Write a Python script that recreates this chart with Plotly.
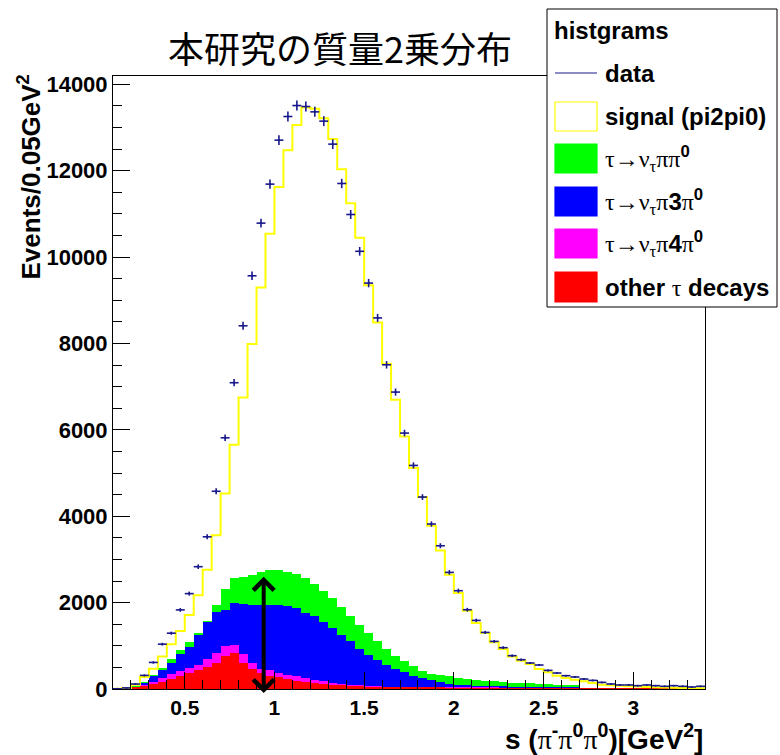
import numpy as np
import plotly.graph_objects as go

# ---------------- data ----------------
# bin centres of s = m^2(pi- pi0 pi0) [GeV^2], 0.05 GeV^2 bins from 0.1 to 3.4
s_centers = np.round(0.125 + 0.05 * np.arange(66), 3)
bin_width = 0.05

# THStack boundaries (each stacked histogram drawn as its cumulative height)
other_top = [2, 8, 25, 60, 115, 165, 225, 290, 360, 430, 510, 610, 770, 835, 600,
             455, 360, 310, 275, 235, 196, 172, 146, 123, 104, 88, 75, 64, 55, 48, 42, 37, 33, 29, 26,
             25, 24, 23, 23, 22, 22, 21, 21, 20, 20, 20, 19, 19, 19, 18, 18, 18, 17, 17, 17, 16, 16,
             16, 15, 15, 15, 14, 14, 14, 13, 13]
pi4pi0_top = [3, 12, 40, 95, 170, 260, 340, 410, 485, 561, 692, 840, 985, 1023, 800,
              610, 465, 435, 380, 335, 292, 254, 215, 177, 146, 120, 100, 85, 72, 62, 54, 47, 41, 36, 32,
              30, 28, 27, 26, 25, 25, 24, 24, 23, 23, 22, 22, 21, 21, 20, 20, 20, 19, 19, 18, 18, 17,
              17, 16, 16, 15, 15, 15, 14, 14, 13]
pi3pi0_top = [4, 16, 55, 150, 290, 446, 610, 808, 965, 1255, 1555, 1780, 1840, 1990, 1975,
              1950, 1945, 1950, 1950, 1910, 1870, 1765, 1680, 1545, 1405, 1255, 1100, 935, 795, 665,
              550, 465, 390, 312, 265,
              205, 160, 125, 100, 85, 75, 68, 62, 58, 54, 50, 47, 45, 43, 41, 39, 37,
              19, 19, 18, 18, 17, 17, 16, 16, 15, 15, 15, 14, 14, 13]
pipi0_top = [4, 18, 62, 170, 331, 485, 705, 900, 1077, 1292, 1580, 1940, 2320, 2570, 2600,
             2650, 2700, 2750, 2755, 2720, 2660, 2565, 2435, 2270, 2100, 1900, 1700, 1490, 1290, 1100,
             920, 775, 640, 530, 428,
             350, 330, 295, 265, 240, 215, 195, 178, 163, 150, 138, 128, 118, 110, 102, 94, 86,
             19, 19, 18, 18, 17, 17, 16, 16, 15, 15, 15, 14, 14, 13]
signal_top = [5, 23, 100, 277, 469, 754, 1038, 1340, 1715, 2170, 2760, 3561, 4523, 5654, 6750,
              7984, 9295, 10537, 11618, 12474, 13053, 13460, 13430, 13214, 12729, 12034, 11247, 10445,
              9345, 8484,
              7528, 6695, 5846, 5114, 4443, 3779, 3204, 2645, 2221, 1812, 1527, 1296, 1080, 925, 755,
              655, 578, 463, 385, 308, 254, 215, 177, 139, 100, 85, 75, 65, 55, 48, 42, 36, 30, 25,
              20, 15]
data_counts = [5, 25, 115, 315, 615, 1038, 1292, 1831, 2208, 2831, 3523, 4577, 5815, 7090, 8408,
               9565, 10784, 11687, 12705, 13252, 13506, 13483, 13360, 13145, 12613, 11702, 10984,
               10132, 9396, 8590,
               7505, 6873, 5924, 5175, 4443, 3818, 3316, 2699, 2275, 1835, 1588, 1310, 1102, 956, 771,
               678, 602, 555, 431, 370, 308, 278, 231, 199, 153, 116, 93, 93, 77, 93, 77, 62, 77, 62,
               46, 62]

x_tick_vals = [0.5, 1, 1.5, 2, 2.5, 3]
y_tick_vals = [0, 2000, 4000, 6000, 8000, 10000, 12000, 14000]

arrow_s, arrow_top, arrow_bottom = 0.94, 2600, -130

# ---------------- styling ----------------
NAVY = "rgb(25,25,140)"
FONT = "Liberation Sans"
L, R, T, B = 113, 705, 76, 689  # plot-area pixel box
W, H = 780, 755


def px2x(px):
    return (px - L) / (R - L)


def py2y(py):
    return (B - py) / (B - T)


def greek(t):
    return f'<span style="font-weight:normal;font-family:Liberation Serif">{t}</span>'


fig = go.Figure()

# stacked histograms (THStack style: cumulative heights drawn from the top down)
for tops, col in [(signal_top, "white"), (pipi0_top, "#00ff00"), (pi3pi0_top, "#0000ff"),
                  (pi4pi0_top, "#ff00ff"), (other_top, "#ff0000")]:
    fig.add_trace(go.Bar(x=s_centers, y=tops, width=bin_width,
                         marker=dict(color=col, line=dict(width=0)),
                         showlegend=False, hoverinfo="skip"))

# yellow outline of the signal (top of stack)
edges = list(s_centers - bin_width / 2) + [s_centers[-1] + bin_width / 2]
fig.add_trace(go.Scatter(x=edges, y=list(signal_top) + [signal_top[-1]], mode="lines",
                         line=dict(color="#ffff00", width=2, shape="hv"),
                         showlegend=False, hoverinfo="skip"))

# data with errors
fig.add_trace(go.Scatter(x=s_centers, y=data_counts, mode="markers",
                         marker=dict(size=2, color=NAVY),
                         error_x=dict(type="constant", value=bin_width / 2, width=0,
                                      thickness=1.6, color=NAVY),
                         error_y=dict(type="sqrt", width=0, thickness=1.6, color=NAVY),
                         showlegend=False))

axis_common = dict(showline=True, linecolor="black", linewidth=1, mirror=True,
                   showgrid=False, zeroline=False, ticks="inside", tickcolor="black",
                   tickwidth=1, ticklen=17)

fig.update_xaxes(range=[0.1, 3.4], tickvals=x_tick_vals,
                 ticktext=[f"{v:g}" for v in x_tick_vals],
                 tickfont=dict(family=FONT, size=21, color="black", weight="bold"),
                 minor=dict(ticks="inside", dtick=0.1, tick0=0, ticklen=9,
                            tickcolor="black", showgrid=False),
                 **axis_common)
fig.update_yaxes(range=[0, 14190], tickvals=y_tick_vals,
                 ticktext=[str(v) for v in y_tick_vals],
                 tickfont=dict(family=FONT, size=22, color="black", weight="bold"),
                 minor=dict(ticks="inside", dtick=500, tick0=0, ticklen=9,
                            tickcolor="black", showgrid=False),
                 **axis_common)

ann = []
ann.append(dict(text="本研究の質量2乗分布", xref="paper", yref="paper",
                x=px2x(340), y=py2y(47), xanchor="center", yanchor="middle", showarrow=False,
                font=dict(family="Noto Sans CJK JP", size=36, color="black")))
ann.append(dict(text="s (" + greek("π") + "<sup>-</sup>" + greek("π") + "<sup>0</sup>" + greek("π")
                + "<sup>0</sup>)[GeV<sup>2</sup>]",
                xref="paper", yref="paper", x=px2x(705), y=py2y(737),
                xanchor="right", yanchor="middle", showarrow=False,
                font=dict(family=FONT, size=28, color="black", weight="bold")))
ann.append(dict(text="Events/0.05GeV<sup>2</sup>", textangle=-90,
                xref="paper", yref="paper", x=px2x(30), y=py2y(73),
                xanchor="center", yanchor="top", showarrow=False,
                font=dict(family=FONT, size=26, color="black", weight="bold")))

# double arrow
ann.append(dict(x=arrow_s, y=arrow_top, ax=arrow_s, ay=arrow_bottom, xref="x", yref="y",
                axref="x", ayref="y", text="", showarrow=True, arrowhead=4, startarrowhead=4,
                arrowside="end+start", arrowwidth=4, arrowsize=1, startarrowsize=1,
                arrowcolor="black", standoff=0, startstandoff=0))

# legend (ROOT TLegend style)
shapes = [dict(type="rect", xref="paper", yref="paper", x0=px2x(547), x1=px2x(777),
               y0=py2y(307), y1=py2y(9), fillcolor="white", line=dict(color="black", width=1),
               layer="above")]
leg_font = dict(family=FONT, size=24, color="black", weight="bold")
ann.append(dict(text="histgrams", xref="paper", yref="paper", x=px2x(552), y=py2y(30),
                xanchor="left", yanchor="middle", showarrow=False, font=leg_font))
shapes.append(dict(type="line", xref="paper", yref="paper", x0=px2x(555), x1=px2x(597),
                   y0=py2y(73), y1=py2y(73), line=dict(color=NAVY, width=1.2), layer="above"))
ann.append(dict(text="data", xref="paper", yref="paper", x=px2x(603), y=py2y(73),
                xanchor="left", yanchor="middle", showarrow=False, font=leg_font))

tau_nu = greek("τ→ν") + "<sub>" + greek("τ") + "</sub>"
entries = [
    (102, 131, "white", "#ffff00", "signal (pi2pi0)"),
    (144, 173, "#00ff00", "#00ff00", tau_nu + greek("ππ") + "<sup>0</sup>"),
    (187, 216, "#0000ff", "#0000ff", tau_nu + greek("π") + "3" + greek("π") + "<sup>0</sup>"),
    (229, 258, "#ff00ff", "#ff00ff", tau_nu + greek("π") + "4" + greek("π") + "<sup>0</sup>"),
    (272, 302, "#ff0000", "#ff0000", "other " + greek("τ") + " decays"),
]
for y0, y1, fc, lc, txt in entries:
    shapes.append(dict(type="rect", xref="paper", yref="paper", x0=px2x(555), x1=px2x(597),
                       y0=py2y(y1), y1=py2y(y0), fillcolor=fc, line=dict(color=lc, width=1.2),
                       layer="above"))
    ann.append(dict(text=txt, xref="paper", yref="paper", x=px2x(603), y=py2y((y0 + y1) / 2),
                    xanchor="left", yanchor="middle", showarrow=False, font=leg_font))

fig.update_layout(width=W, height=H, margin=dict(l=L, r=W - R, t=T, b=H - B),
                  paper_bgcolor="white", plot_bgcolor="white", barmode="overlay", bargap=0,
                  showlegend=False, annotations=ann, shapes=shapes,
                  font=dict(family=FONT, color="black"))

fig.write_html("out.html")
